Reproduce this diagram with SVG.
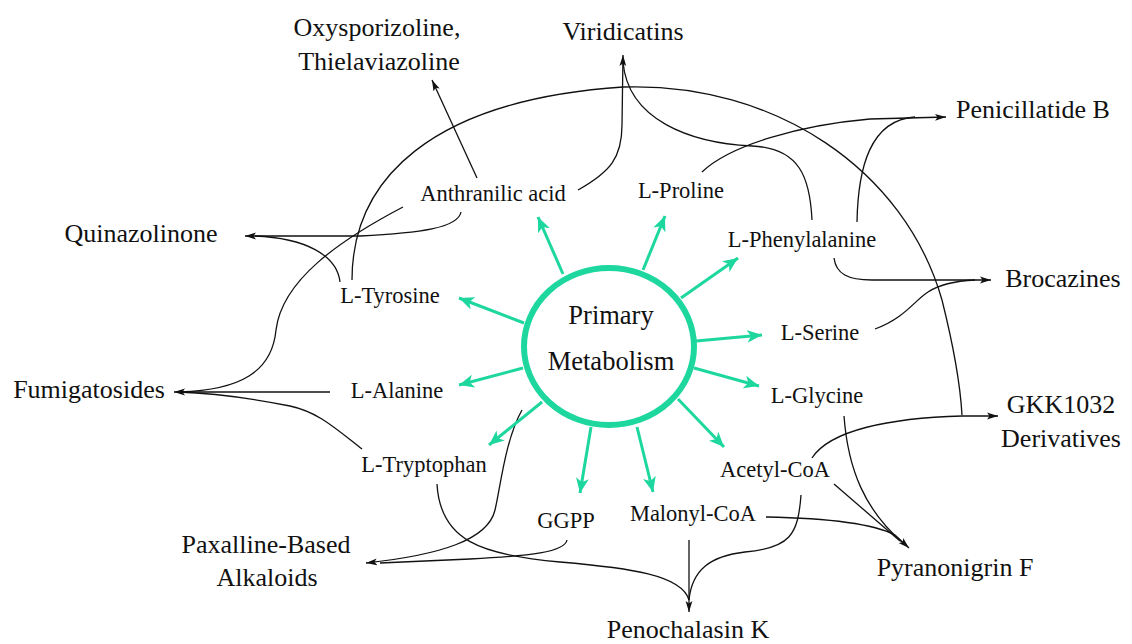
<svg xmlns="http://www.w3.org/2000/svg" width="1132" height="644" viewBox="0 0 1132 644">
<style>
text{font-family:"Liberation Serif","Times New Roman",serif;fill:#111;text-anchor:middle}
.o{font-size:26px}
.i{font-size:22.5px}
.c{font-size:26.5px}
.k{fill:none;stroke:#111;stroke-width:1.3}
.g{stroke:#1dd79e;stroke-width:3;fill:none}
</style>
<defs>
<marker id="ab" markerUnits="userSpaceOnUse" markerWidth="12" markerHeight="8" refX="11" refY="4" orient="auto">
<path d="M0,0.6 L11,4 L0,7.4 L2.5,4 z" fill="#111"/>
</marker>
<marker id="ag" markerUnits="userSpaceOnUse" markerWidth="16" markerHeight="14" refX="15" refY="7" orient="auto">
<path d="M0,0.5 L15,7 L0,13.5 L4,7 z" fill="#1dd79e"/>
</marker>
</defs>
<rect width="1132" height="644" fill="#fff"/>

<g id="connectors">
<path class="k" d="M477,178 L432,80" marker-end="url(#ab)"/>
<path class="k" d="M578,190 C610,172 622,158 622,125 L623,55" marker-end="url(#ab)"/>
<path class="k" d="M812,220 C810,178 800,148 752,146 C690,143 628,120 623,62"/>
<path class="k" d="M702,172 C730,145 800,125 870,119 L946,117" marker-end="url(#ab)"/>
<path class="k" d="M857,222 C858,168 870,120 915,117"/>
<path class="k" d="M834,258 C836,274 848,280 872,280 L991,280" marker-end="url(#ab)"/>
<path class="k" d="M875,329 C905,318 915,300 928,292 C940,284 955,281 975,280"/>
<path class="k" d="M461,212 C458,228 420,233 360,236 L245,236" marker-end="url(#ab)"/>
<path class="k" d="M340,282 C337,255 305,238 255,236"/>
<path class="k" d="M352,280 C352,180 430,100 623,87 C775,82 905,170 942,300 C952,340 960,380 962,415"/>
<path class="k" d="M812,458 C830,430 890,418 962,416 L998,416" marker-end="url(#ab)"/>
<path class="k" d="M330,392 L174,392" marker-end="url(#ab)"/>
<path class="k" d="M362,449 C335,428 318,412 290,406 C250,398 210,393 178,392"/>
<path class="k" d="M403,207 C340,240 282,280 276,330 C272,372 240,390 180,392"/>
<path class="k" d="M522,410 C505,440 500,490 495,510 C488,540 440,555 366,563" marker-end="url(#ab)"/>
<path class="k" d="M567,540 C565,552 530,556 470,559 L380,563"/>
<path class="k" d="M689,540 L689,612" marker-end="url(#ab)"/>
<path class="k" d="M437,484 C440,540 480,555 560,562 C630,568 682,575 689,600"/>
<path class="k" d="M801,495 C798,535 790,548 745,552 C710,556 692,570 689,600"/>
<path class="k" d="M766,517 C820,518 870,522 895,535 L909,548" marker-end="url(#ab)"/>
<path class="k" d="M834,484 L900,541"/>
<path class="k" d="M844,416 C848,470 865,510 903,543"/>
</g>

<g id="green-arrows">
<line class="g" x1="563" y1="274" x2="538" y2="217" marker-end="url(#ag)"/>
<line class="g" x1="643" y1="270" x2="665" y2="216" marker-end="url(#ag)"/>
<line class="g" x1="681" y1="298" x2="738" y2="258" marker-end="url(#ag)"/>
<line class="g" x1="524" y1="323" x2="459" y2="298" marker-end="url(#ag)"/>
<line class="g" x1="696" y1="341" x2="762" y2="335" marker-end="url(#ag)"/>
<line class="g" x1="523" y1="368" x2="459" y2="385" marker-end="url(#ag)"/>
<line class="g" x1="694" y1="368" x2="759" y2="386" marker-end="url(#ag)"/>
<line class="g" x1="542" y1="402" x2="489" y2="445" marker-end="url(#ag)"/>
<line class="g" x1="678" y1="399" x2="724" y2="447" marker-end="url(#ag)"/>
<line class="g" x1="591" y1="427" x2="580" y2="493" marker-end="url(#ag)"/>
<line class="g" x1="637" y1="427" x2="653" y2="492" marker-end="url(#ag)"/>
</g>

<g id="primary-metabolism">
<ellipse cx="609" cy="346.5" rx="85" ry="78.5" fill="#fff" stroke="#1dd79e" stroke-width="6"/>
<text class="c" x="611" y="324">Primary</text>
<text class="c" x="611" y="370">Metabolism</text>
</g>

<g id="anthranilic-acid"><text class="i" x="493" y="201">Anthranilic acid</text></g>
<g id="l-proline"><text class="i" x="681" y="198">L-Proline</text></g>
<g id="l-phenylalanine"><text class="i" x="802" y="247">L-Phenylalanine</text></g>
<g id="l-tyrosine"><text class="i" x="390" y="303">L-Tyrosine</text></g>
<g id="l-serine"><text class="i" x="820" y="340">L-Serine</text></g>
<g id="l-alanine"><text class="i" x="397" y="398">L-Alanine</text></g>
<g id="l-glycine"><text class="i" x="817" y="403">L-Glycine</text></g>
<g id="l-tryptophan"><text class="i" x="424" y="472">L-Tryptophan</text></g>
<g id="acetyl-coa"><text class="i" x="775" y="477">Acetyl-CoA</text></g>
<g id="ggpp"><text class="i" x="566" y="528">GGPP</text></g>
<g id="malonyl-coa"><text class="i" x="693" y="521">Malonyl-CoA</text></g>

<g id="oxysporizoline"><text class="o" x="377" y="36">Oxysporizoline,</text><text class="o" x="379" y="70">Thielaviazoline</text></g>
<g id="viridicatins"><text class="o" x="623" y="40">Viridicatins</text></g>
<g id="penicillatide-b"><text class="o" x="1033" y="118">Penicillatide B</text></g>
<g id="quinazolinone"><text class="o" x="141" y="242">Quinazolinone</text></g>
<g id="brocazines"><text class="o" x="1063" y="287">Brocazines</text></g>
<g id="fumigatosides"><text class="o" x="89" y="398">Fumigatosides</text></g>
<g id="gkk1032"><text class="o" x="1061" y="413">GKK1032</text><text class="o" x="1061" y="447">Derivatives</text></g>
<g id="paxalline"><text class="o" x="266" y="553">Paxalline-Based</text><text class="o" x="267" y="586">Alkaloids</text></g>
<g id="pyranonigrin-f"><text class="o" x="955" y="576">Pyranonigrin F</text></g>
<g id="penochalasin-k"><text class="o" x="688" y="638">Penochalasin K</text></g>
</svg>
